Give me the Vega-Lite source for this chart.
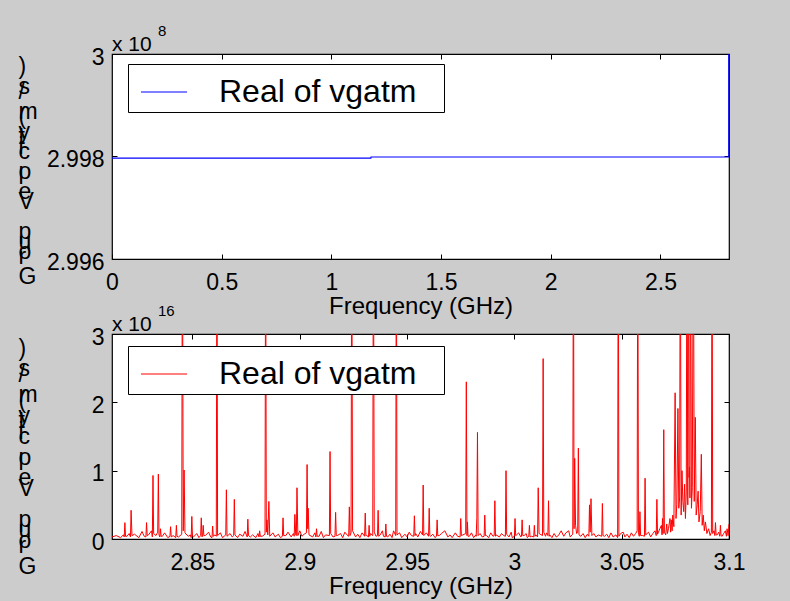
{
  "$schema": "https://vega.github.io/schema/vega-lite/v6.json",
  "background": "#cccccc",
  "padding": {"left": 17, "top": 23, "right": 59, "bottom": 5},
  "datasets": {
    "top": [
      {"f": 0, "v": 2.99797},
      {"f": 1.18, "v": 2.99797},
      {"f": 1.181, "v": 2.99799},
      {"f": 2.8115, "v": 2.99799},
      {"f": 2.812, "v": 3.5}
    ],
    "bottom": [
      {"f": 2.8125, "v": 0.03}, {"f": 2.8145, "v": 0.05}, {"f": 2.8165, "v": 0.02}, {"f": 2.8178, "v": 0.06},
      {"f": 2.8182, "v": 0.03}, {"f": 2.8185, "v": 0.24}, {"f": 2.8188, "v": 0.04}, {"f": 2.8195, "v": 0.04},
      {"f": 2.8205, "v": 0.08}, {"f": 2.8211, "v": 0.03}, {"f": 2.8214, "v": 0.42}, {"f": 2.8218, "v": 0.05},
      {"f": 2.823, "v": 0.07}, {"f": 2.825, "v": 0.02}, {"f": 2.8265, "v": 0.11}, {"f": 2.8275, "v": 0.04},
      {"f": 2.8283, "v": 0.03}, {"f": 2.8286, "v": 0.24}, {"f": 2.8289, "v": 0.05}, {"f": 2.8295, "v": 0.06},
      {"f": 2.8309, "v": 0.12}, {"f": 2.8313, "v": 0.03}, {"f": 2.8316, "v": 0.93}, {"f": 2.8319, "v": 0.08},
      {"f": 2.833, "v": 0.05}, {"f": 2.8338, "v": 0.1}, {"f": 2.8341, "v": 0.95}, {"f": 2.8344, "v": 0.06},
      {"f": 2.8348, "v": 0.03}, {"f": 2.8351, "v": 0.15}, {"f": 2.8354, "v": 0.04}, {"f": 2.836, "v": 0.04},
      {"f": 2.837, "v": 0.09}, {"f": 2.8385, "v": 0.02}, {"f": 2.8395, "v": 0.04}, {"f": 2.8398, "v": 0.18},
      {"f": 2.8401, "v": 0.03}, {"f": 2.841, "v": 0.05}, {"f": 2.8422, "v": 0.02}, {"f": 2.8425, "v": 0.2},
      {"f": 2.8428, "v": 0.04}, {"f": 2.8435, "v": 0.03}, {"f": 2.845, "v": 0.07}, {"f": 2.8453, "v": 5},
      {"f": 2.8457, "v": 0.12}, {"f": 2.8461, "v": 1.01}, {"f": 2.8465, "v": 0.09}, {"f": 2.848, "v": 0.04},
      {"f": 2.849, "v": 0.06}, {"f": 2.8494, "v": 0.02}, {"f": 2.8497, "v": 0.33}, {"f": 2.85, "v": 0.04},
      {"f": 2.8505, "v": 0.03}, {"f": 2.852, "v": 0.08}, {"f": 2.853, "v": 0.02}, {"f": 2.8538, "v": 0.05},
      {"f": 2.8541, "v": 0.31}, {"f": 2.8544, "v": 0.03}, {"f": 2.8547, "v": 0.04}, {"f": 2.855, "v": 0.2},
      {"f": 2.8553, "v": 0.05}, {"f": 2.856, "v": 0.05}, {"f": 2.8575, "v": 0.1}, {"f": 2.8585, "v": 0.03},
      {"f": 2.8591, "v": 0.02}, {"f": 2.8594, "v": 0.19}, {"f": 2.8597, "v": 0.04}, {"f": 2.8605, "v": 0.06},
      {"f": 2.8611, "v": 0.04}, {"f": 2.8614, "v": 5}, {"f": 2.8617, "v": 0.05}, {"f": 2.863, "v": 0.09},
      {"f": 2.864, "v": 0.02}, {"f": 2.8655, "v": 0.06}, {"f": 2.8658, "v": 0.72}, {"f": 2.8661, "v": 0.04},
      {"f": 2.8675, "v": 0.08}, {"f": 2.8685, "v": 0.03}, {"f": 2.8692, "v": 0.05}, {"f": 2.8695, "v": 0.58},
      {"f": 2.8698, "v": 0.06}, {"f": 2.871, "v": 0.02}, {"f": 2.872, "v": 0.07}, {"f": 2.8735, "v": 0.04},
      {"f": 2.8745, "v": 0.11}, {"f": 2.8755, "v": 0.03}, {"f": 2.8758, "v": 0.29}, {"f": 2.8761, "v": 0.05},
      {"f": 2.877, "v": 0.03}, {"f": 2.878, "v": 0.06}, {"f": 2.8795, "v": 0.02}, {"f": 2.8805, "v": 0.08},
      {"f": 2.881, "v": 0.03}, {"f": 2.8813, "v": 0.12}, {"f": 2.8816, "v": 0.04}, {"f": 2.8825, "v": 0.04},
      {"f": 2.8838, "v": 0.07}, {"f": 2.8841, "v": 5}, {"f": 2.8844, "v": 0.1}, {"f": 2.8847, "v": 0.28},
      {"f": 2.8851, "v": 0.06}, {"f": 2.8856, "v": 0.55}, {"f": 2.886, "v": 0.04}, {"f": 2.8875, "v": 0.09},
      {"f": 2.8885, "v": 0.03}, {"f": 2.89, "v": 0.07}, {"f": 2.891, "v": 0.02}, {"f": 2.8919, "v": 0.04},
      {"f": 2.8922, "v": 0.31}, {"f": 2.8925, "v": 0.05}, {"f": 2.8935, "v": 0.05}, {"f": 2.8945, "v": 0.1},
      {"f": 2.896, "v": 0.03}, {"f": 2.897, "v": 0.08}, {"f": 2.8974, "v": 0.04}, {"f": 2.8977, "v": 0.36},
      {"f": 2.8981, "v": 0.06}, {"f": 2.8984, "v": 0.05}, {"f": 2.8987, "v": 0.75}, {"f": 2.8991, "v": 0.05},
      {"f": 2.9, "v": 0.12}, {"f": 2.901, "v": 0.04}, {"f": 2.902, "v": 0.07}, {"f": 2.9031, "v": 0.09},
      {"f": 2.9034, "v": 1.09}, {"f": 2.9037, "v": 0.15}, {"f": 2.9039, "v": 0.45}, {"f": 2.9043, "v": 0.06},
      {"f": 2.906, "v": 0.03}, {"f": 2.907, "v": 0.09}, {"f": 2.9075, "v": 0.03}, {"f": 2.9078, "v": 0.15},
      {"f": 2.9081, "v": 0.04}, {"f": 2.909, "v": 0.04}, {"f": 2.91, "v": 0.11}, {"f": 2.911, "v": 0.02},
      {"f": 2.912, "v": 0.06}, {"f": 2.9138, "v": 0.05}, {"f": 2.9141, "v": 1.28}, {"f": 2.9144, "v": 0.08},
      {"f": 2.9155, "v": 0.03}, {"f": 2.9164, "v": 0.04}, {"f": 2.9167, "v": 0.39}, {"f": 2.917, "v": 0.05},
      {"f": 2.9175, "v": 0.05}, {"f": 2.919, "v": 0.08}, {"f": 2.92, "v": 0.02}, {"f": 2.921, "v": 0.1},
      {"f": 2.922, "v": 0.06}, {"f": 2.9228, "v": 0.04}, {"f": 2.9231, "v": 0.47}, {"f": 2.9234, "v": 0.05},
      {"f": 2.9239, "v": 0.09}, {"f": 2.9242, "v": 5}, {"f": 2.9246, "v": 0.12}, {"f": 2.926, "v": 0.03},
      {"f": 2.927, "v": 0.07}, {"f": 2.928, "v": 0.02}, {"f": 2.929, "v": 0.09}, {"f": 2.9302, "v": 0.04},
      {"f": 2.9305, "v": 0.38}, {"f": 2.9308, "v": 0.05}, {"f": 2.9312, "v": 0.05}, {"f": 2.932, "v": 0.03},
      {"f": 2.9323, "v": 0.2}, {"f": 2.9326, "v": 0.04}, {"f": 2.933, "v": 0.08}, {"f": 2.934, "v": 0.05},
      {"f": 2.9343, "v": 5}, {"f": 2.9347, "v": 0.1}, {"f": 2.9355, "v": 0.04}, {"f": 2.9362, "v": 0.05},
      {"f": 2.9365, "v": 0.42}, {"f": 2.9368, "v": 0.04}, {"f": 2.9375, "v": 0.06}, {"f": 2.9385, "v": 0.12},
      {"f": 2.939, "v": 0.04}, {"f": 2.9398, "v": 0.03}, {"f": 2.9401, "v": 0.22}, {"f": 2.9404, "v": 0.04},
      {"f": 2.941, "v": 0.03}, {"f": 2.942, "v": 0.07}, {"f": 2.943, "v": 0.02}, {"f": 2.9437, "v": 0.12},
      {"f": 2.9447, "v": 0.05}, {"f": 2.945, "v": 5}, {"f": 2.9453, "v": 0.06}, {"f": 2.9465, "v": 0.09},
      {"f": 2.9475, "v": 0.02}, {"f": 2.949, "v": 0.07}, {"f": 2.95, "v": 0.03}, {"f": 2.951, "v": 0.1},
      {"f": 2.952, "v": 0.05}, {"f": 2.9531, "v": 0.04}, {"f": 2.9534, "v": 0.34}, {"f": 2.9537, "v": 0.05},
      {"f": 2.954, "v": 0.08}, {"f": 2.955, "v": 0.03}, {"f": 2.9562, "v": 0.11}, {"f": 2.9572, "v": 0.06},
      {"f": 2.9575, "v": 0.79}, {"f": 2.9578, "v": 0.05}, {"f": 2.959, "v": 0.09}, {"f": 2.96, "v": 0.04},
      {"f": 2.9603, "v": 0.45}, {"f": 2.9606, "v": 0.05}, {"f": 2.961, "v": 0.04}, {"f": 2.962, "v": 0.07},
      {"f": 2.963, "v": 0.02}, {"f": 2.9637, "v": 0.04}, {"f": 2.964, "v": 0.28}, {"f": 2.9643, "v": 0.05},
      {"f": 2.965, "v": 0.05}, {"f": 2.966, "v": 0.08}, {"f": 2.9676, "v": 0.12}, {"f": 2.969, "v": 0.03},
      {"f": 2.97, "v": 0.06}, {"f": 2.971, "v": 0.02}, {"f": 2.9725, "v": 0.09}, {"f": 2.9735, "v": 0.04},
      {"f": 2.9747, "v": 0.03}, {"f": 2.975, "v": 0.3}, {"f": 2.9753, "v": 0.05}, {"f": 2.976, "v": 0.06},
      {"f": 2.9773, "v": 0.08}, {"f": 2.9776, "v": 2.3}, {"f": 2.9779, "v": 0.05}, {"f": 2.9781, "v": 0.25},
      {"f": 2.9784, "v": 0.04}, {"f": 2.979, "v": 0.04}, {"f": 2.98, "v": 0.09}, {"f": 2.981, "v": 0.02},
      {"f": 2.982, "v": 0.06}, {"f": 2.9822, "v": 0.04}, {"f": 2.9825, "v": 0.31}, {"f": 2.9828, "v": 1.56},
      {"f": 2.9831, "v": 0.05}, {"f": 2.984, "v": 0.08}, {"f": 2.985, "v": 0.03}, {"f": 2.9859, "v": 0.04},
      {"f": 2.9862, "v": 0.35}, {"f": 2.9865, "v": 0.05}, {"f": 2.987, "v": 0.05}, {"f": 2.988, "v": 0.02},
      {"f": 2.989, "v": 0.09}, {"f": 2.99, "v": 0.04}, {"f": 2.9906, "v": 0.05}, {"f": 2.9909, "v": 0.56},
      {"f": 2.9912, "v": 0.04}, {"f": 2.9915, "v": 0.06}, {"f": 2.993, "v": 0.03}, {"f": 2.994, "v": 0.08},
      {"f": 2.995, "v": 0.05}, {"f": 2.9958, "v": 0.04}, {"f": 2.9961, "v": 1.0}, {"f": 2.9964, "v": 0.07},
      {"f": 2.9975, "v": 0.03}, {"f": 2.9985, "v": 0.1}, {"f": 2.999, "v": 0.02}, {"f": 3.0, "v": 0.04},
      {"f": 3.0003, "v": 0.3}, {"f": 3.0006, "v": 0.05}, {"f": 3.001, "v": 0.06}, {"f": 3.002, "v": 0.09},
      {"f": 3.003, "v": 0.03}, {"f": 3.0033, "v": 0.04}, {"f": 3.0036, "v": 0.28}, {"f": 3.0039, "v": 0.05},
      {"f": 3.0045, "v": 0.05}, {"f": 3.0055, "v": 0.08}, {"f": 3.006, "v": 0.02}, {"f": 3.0067, "v": 0.04},
      {"f": 3.007, "v": 0.2}, {"f": 3.0073, "v": 0.03}, {"f": 3.008, "v": 0.04}, {"f": 3.009, "v": 0.03},
      {"f": 3.0093, "v": 0.2}, {"f": 3.0096, "v": 0.04}, {"f": 3.01, "v": 0.06}, {"f": 3.0108, "v": 0.03},
      {"f": 3.0111, "v": 0.75}, {"f": 3.0115, "v": 0.08}, {"f": 3.0131, "v": 0.05}, {"f": 3.0134, "v": 2.64},
      {"f": 3.0137, "v": 0.1}, {"f": 3.0145, "v": 0.04}, {"f": 3.015, "v": 0.09}, {"f": 3.0156, "v": 0.05},
      {"f": 3.0159, "v": 0.56}, {"f": 3.0162, "v": 0.04}, {"f": 3.0165, "v": 0.06}, {"f": 3.0175, "v": 0.02},
      {"f": 3.0185, "v": 0.08}, {"f": 3.0195, "v": 0.03}, {"f": 3.0205, "v": 0.05}, {"f": 3.0218, "v": 0.12},
      {"f": 3.023, "v": 0.04}, {"f": 3.024, "v": 0.09}, {"f": 3.0253, "v": 0.12}, {"f": 3.026, "v": 0.03},
      {"f": 3.0272, "v": 0.07}, {"f": 3.0275, "v": 5}, {"f": 3.0278, "v": 0.15}, {"f": 3.0281, "v": 1.18},
      {"f": 3.0285, "v": 0.2}, {"f": 3.029, "v": 0.08}, {"f": 3.0295, "v": 0.1}, {"f": 3.0298, "v": 1.33},
      {"f": 3.0301, "v": 0.06}, {"f": 3.031, "v": 0.04}, {"f": 3.032, "v": 0.08}, {"f": 3.033, "v": 0.02},
      {"f": 3.034, "v": 0.07}, {"f": 3.0347, "v": 0.04}, {"f": 3.035, "v": 0.5}, {"f": 3.0353, "v": 0.1},
      {"f": 3.0357, "v": 0.59}, {"f": 3.0361, "v": 0.05}, {"f": 3.037, "v": 0.08}, {"f": 3.038, "v": 0.03},
      {"f": 3.039, "v": 0.06}, {"f": 3.0407, "v": 0.04}, {"f": 3.041, "v": 0.52}, {"f": 3.0413, "v": 0.05},
      {"f": 3.042, "v": 0.04}, {"f": 3.043, "v": 0.07}, {"f": 3.044, "v": 0.02}, {"f": 3.045, "v": 0.09},
      {"f": 3.046, "v": 0.03}, {"f": 3.0473, "v": 0.06}, {"f": 3.0481, "v": 0.02}, {"f": 3.0484, "v": 5},
      {"f": 3.0487, "v": 0.04}, {"f": 3.0495, "v": 0.08}, {"f": 3.0507, "v": 0.1}, {"f": 3.0515, "v": 0.03},
      {"f": 3.0525, "v": 0.07}, {"f": 3.0535, "v": 0.02}, {"f": 3.0545, "v": 0.09}, {"f": 3.0555, "v": 0.04},
      {"f": 3.0565, "v": 0.08}, {"f": 3.0572, "v": 0.12}, {"f": 3.0575, "v": 5}, {"f": 3.0578, "v": 0.09},
      {"f": 3.0582, "v": 0.04}, {"f": 3.0585, "v": 0.4}, {"f": 3.0588, "v": 0.05}, {"f": 3.0598, "v": 0.05},
      {"f": 3.0606, "v": 0.04}, {"f": 3.0609, "v": 0.89}, {"f": 3.0612, "v": 0.06}, {"f": 3.0625, "v": 0.1},
      {"f": 3.0635, "v": 0.03}, {"f": 3.0645, "v": 0.08}, {"f": 3.0655, "v": 0.12}, {"f": 3.0661, "v": 0.05},
      {"f": 3.0664, "v": 0.58}, {"f": 3.0667, "v": 0.07}, {"f": 3.0678, "v": 0.15}, {"f": 3.0685, "v": 0.2},
      {"f": 3.0688, "v": 0.06}, {"f": 3.069, "v": 0.3}, {"f": 3.0693, "v": 0.08}, {"f": 3.0696, "v": 1.6},
      {"f": 3.0699, "v": 0.1}, {"f": 3.0705, "v": 0.06}, {"f": 3.071, "v": 0.22}, {"f": 3.0713, "v": 0.08},
      {"f": 3.0718, "v": 0.15}, {"f": 3.0725, "v": 0.3}, {"f": 3.0728, "v": 0.1}, {"f": 3.0731, "v": 0.28},
      {"f": 3.0735, "v": 0.12}, {"f": 3.0738, "v": 0.35}, {"f": 3.0743, "v": 0.18}, {"f": 3.0749, "v": 2.14},
      {"f": 3.0753, "v": 0.3}, {"f": 3.0757, "v": 0.5}, {"f": 3.0762, "v": 1.91}, {"f": 3.0766, "v": 0.45},
      {"f": 3.077, "v": 0.6}, {"f": 3.0773, "v": 5}, {"f": 3.0777, "v": 0.35}, {"f": 3.0781, "v": 1.0},
      {"f": 3.0785, "v": 0.55}, {"f": 3.0789, "v": 0.4}, {"f": 3.0793, "v": 0.8}, {"f": 3.0797, "v": 0.3},
      {"f": 3.0801, "v": 0.7}, {"f": 3.0804, "v": 5}, {"f": 3.0808, "v": 0.5}, {"f": 3.0812, "v": 5},
      {"f": 3.0814, "v": 0.9}, {"f": 3.0816, "v": 1.05}, {"f": 3.0818, "v": 0.6}, {"f": 3.0821, "v": 5},
      {"f": 3.0825, "v": 0.45}, {"f": 3.0829, "v": 0.75}, {"f": 3.0834, "v": 5}, {"f": 3.0838, "v": 0.55},
      {"f": 3.0843, "v": 1.78}, {"f": 3.0847, "v": 0.35}, {"f": 3.0852, "v": 0.5}, {"f": 3.0856, "v": 0.7},
      {"f": 3.086, "v": 0.25}, {"f": 3.0866, "v": 0.4}, {"f": 3.0871, "v": 1.24}, {"f": 3.0875, "v": 0.2},
      {"f": 3.088, "v": 0.35}, {"f": 3.0885, "v": 0.12}, {"f": 3.089, "v": 0.25}, {"f": 3.0897, "v": 0.08},
      {"f": 3.0905, "v": 0.15}, {"f": 3.0912, "v": 0.05}, {"f": 3.0918, "v": 0.1}, {"f": 3.0921, "v": 5},
      {"f": 3.0924, "v": 0.08}, {"f": 3.093, "v": 0.12}, {"f": 3.0934, "v": 0.05}, {"f": 3.0937, "v": 0.24},
      {"f": 3.094, "v": 0.06}, {"f": 3.0945, "v": 0.06}, {"f": 3.0952, "v": 0.1}, {"f": 3.0957, "v": 0.04},
      {"f": 3.096, "v": 0.2}, {"f": 3.0963, "v": 0.05}, {"f": 3.0968, "v": 0.04}, {"f": 3.0975, "v": 0.08},
      {"f": 3.0983, "v": 0.12}, {"f": 3.0988, "v": 0.04}, {"f": 3.0991, "v": 0.15}, {"f": 3.0996, "v": 0.05},
      {"f": 3.1, "v": 0.22}
    ]
  },
  "spacing": 75,
  "bounds": "flush",
  "resolve": {"scale": {"color": "independent"}, "legend": {"color": "independent"}},
  "vconcat": [
    {
      "width": 617,
      "height": 205,
      "resolve": {"axis": {"x": "independent", "y": "independent"}},
      "layer": [
        {
          "data": {"name": "top"},
          "mark": {"type": "line", "clip": true, "strokeWidth": 1.2},
          "encoding": {
            "x": {"field": "f", "type": "quantitative", "scale": {"domain": [0, 2.8125], "nice": false, "zero": false},
              "axis": {"orient": "bottom", "values": [0, 0.5, 1, 1.5, 2, 2.5], "format": ".1~f", "ticks": false, "labelPadding": 12, "labelFlush": false,
                "title": "Frequency (GHz)", "titleY": 54, "titleBaseline": "alphabetic"}},
            "y": {"field": "v", "type": "quantitative", "scale": {"domain": [2.996, 3], "nice": false, "zero": false},
              "axis": {"orient": "left", "values": [2.996, 2.998, 3], "format": ".3~f", "ticks": false, "labelPadding": 8, "labelOffset": 3, "labelFlush": false,
                "title": [")", "\u2800", "\u2800", "\u2800", "s", "/", "\u2800", "\u2800", "\u2800", "m", "(", "\u2800", "\u2800", "y", "t", "\u2800", "i", "c", "\u2800", "\u2800", "\u2800", "o", "l", "\u2800", "\u2800", "e", "\u2800", "V", "\u2800", "\u2800", "\u2800", "\u2800", "\u2800", "p", "\u2800", "u", "\u2800", "o", "r", "\u2800", "\u2800", "\u2800", "G"],
                "titleAngle": 0, "titleAlign": "left", "titleBaseline": "top", "titleX": -94, "titleY": 1, "titleLineHeight": 5, "titleFontSize": 23}},
            "color": {"datum": "Real of vgatm", "type": "nominal", "scale": {"range": ["#0000ff"]},
              "legend": {"orient": "none", "legendX": 16, "legendY": 10, "labelExpr": "datum.label + '\u2800'"}}
          }
        },
        {
          "data": {"name": "top"},
          "mark": {"type": "line", "strokeOpacity": 0, "clip": true},
          "encoding": {
            "x": {"field": "f", "type": "quantitative", "axis": {"orient": "bottom", "values": [0, 0.5, 1, 1.5, 2, 2.5], "labels": false, "title": null, "tickSize": -5}},
            "y": {"field": "v", "type": "quantitative", "axis": {"orient": "left", "values": [2.996, 2.998, 3], "labels": false, "title": null, "tickSize": -5}}
          }
        },
        {
          "data": {"name": "top"},
          "mark": {"type": "line", "strokeOpacity": 0, "clip": true},
          "encoding": {
            "x": {"field": "f", "type": "quantitative", "axis": {"orient": "top", "values": [0, 0.5, 1, 1.5, 2, 2.5], "labels": false, "title": null, "tickSize": -5}},
            "y": {"field": "v", "type": "quantitative", "axis": {"orient": "right", "values": [2.996, 2.998, 3], "labels": false, "title": null, "tickSize": -5}}
          }
        },
        {
          "data": {"values": [{"base": "x 10", "exp": "8"}]},
          "mark": {"type": "text", "align": "left", "baseline": "alphabetic", "dy": -3, "fontSize": 21},
          "encoding": {
            "x": {"datum": 0, "type": "quantitative", "axis": null},
            "y": {"datum": 3, "type": "quantitative", "axis": null},
            "text": {"field": "base"}
          }
        },
        {
          "data": {"values": [{"base": "x 10", "exp": "8"}]},
          "mark": {"type": "text", "align": "left", "baseline": "alphabetic", "dx": 46, "dy": -18, "fontSize": 15},
          "encoding": {
            "x": {"datum": 0, "type": "quantitative", "axis": null},
            "y": {"datum": 3, "type": "quantitative", "axis": null},
            "text": {"field": "exp"}
          }
        }
      ]
    },
    {
      "width": 617,
      "height": 205,
      "resolve": {"axis": {"x": "independent", "y": "independent"}},
      "layer": [
        {
          "data": {"name": "bottom"},
          "mark": {"type": "line", "clip": true, "strokeWidth": 1},
          "encoding": {
            "x": {"field": "f", "type": "quantitative", "scale": {"domain": [2.8125, 3.1], "nice": false, "zero": false},
              "axis": {"orient": "bottom", "values": [2.85, 2.9, 2.95, 3, 3.05, 3.1], "format": ".2~f", "ticks": false, "labelPadding": 12, "labelFlush": false,
                "title": "Frequency (GHz)", "titleY": 54, "titleBaseline": "alphabetic"}},
            "y": {"field": "v", "type": "quantitative", "scale": {"domain": [0, 3], "nice": false, "zero": false},
              "axis": {"orient": "left", "values": [0, 1, 2, 3], "format": "d", "ticks": false, "labelPadding": 8, "labelOffset": 3, "labelFlush": false,
                "title": [")", "\u2800", "\u2800", "\u2800", "s", "/", "\u2800", "\u2800", "\u2800", "m", "(", "\u2800", "\u2800", "y", "t", "\u2800", "i", "c", "\u2800", "\u2800", "\u2800", "o", "l", "\u2800", "\u2800", "e", "\u2800", "V", "\u2800", "\u2800", "\u2800", "\u2800", "\u2800", "p", "\u2800", "u", "\u2800", "o", "r", "\u2800", "\u2800", "\u2800", "G"],
                "titleAngle": 0, "titleAlign": "left", "titleBaseline": "top", "titleX": -94, "titleY": 3, "titleLineHeight": 5.2, "titleFontSize": 23}},
            "color": {"datum": "Real of vgatm", "type": "nominal", "scale": {"range": ["#ff0000"]},
              "legend": {"orient": "none", "legendX": 16, "legendY": 12, "labelExpr": "datum.label + '\u2800'"}}
          }
        },
        {
          "data": {"name": "bottom"},
          "mark": {"type": "line", "strokeOpacity": 0, "clip": true},
          "encoding": {
            "x": {"field": "f", "type": "quantitative", "axis": {"orient": "bottom", "values": [2.85, 2.9, 2.95, 3, 3.05, 3.1], "labels": false, "title": null, "tickSize": -5}},
            "y": {"field": "v", "type": "quantitative", "axis": {"orient": "left", "values": [0, 1, 2, 3], "labels": false, "title": null, "tickSize": -5}}
          }
        },
        {
          "data": {"name": "bottom"},
          "mark": {"type": "line", "strokeOpacity": 0, "clip": true},
          "encoding": {
            "x": {"field": "f", "type": "quantitative", "axis": {"orient": "top", "values": [2.85, 2.9, 2.95, 3, 3.05, 3.1], "labels": false, "title": null, "tickSize": -5}},
            "y": {"field": "v", "type": "quantitative", "axis": {"orient": "right", "values": [0, 1, 2, 3], "labels": false, "title": null, "tickSize": -5}}
          }
        },
        {
          "data": {"values": [{"base": "x 10", "exp": "16"}]},
          "mark": {"type": "text", "align": "left", "baseline": "alphabetic", "dy": -3, "fontSize": 21},
          "encoding": {
            "x": {"datum": 2.8125, "type": "quantitative", "axis": null},
            "y": {"datum": 3, "type": "quantitative", "axis": null},
            "text": {"field": "base"}
          }
        },
        {
          "data": {"values": [{"base": "x 10", "exp": "16"}]},
          "mark": {"type": "text", "align": "left", "baseline": "alphabetic", "dx": 46, "dy": -18, "fontSize": 15},
          "encoding": {
            "x": {"datum": 2.8125, "type": "quantitative", "axis": null},
            "y": {"datum": 3, "type": "quantitative", "axis": null},
            "text": {"field": "exp"}
          }
        }
      ]
    }
  ],
  "config": {
    "font": "Liberation Sans",
    "view": {"stroke": "black", "strokeWidth": 1.2, "fill": "white"},
    "text": {"font": "Liberation Sans", "color": "black"},
    "axis": {
      "domain": false, "grid": false, "labelFlush": false,
      "labelFont": "Liberation Sans", "labelFontSize": 23, "labelColor": "black",
      "titleFont": "Liberation Sans", "titleFontSize": 24, "titleFontWeight": "normal", "titleColor": "black",
      "tickColor": "black", "tickWidth": 1
    },
    "legend": {
      "title": null,
      "symbolType": "stroke", "symbolSize": 2116, "symbolStrokeWidth": 1.2, "symbolOffset": 8,
      "labelFont": "Liberation Sans", "labelFontSize": 32, "labelColor": "black", "labelOffset": 31, "labelLimit": 0,
      "strokeColor": "black", "fillColor": "white", "padding": 4, "cornerRadius": 0
    }
  }
}
